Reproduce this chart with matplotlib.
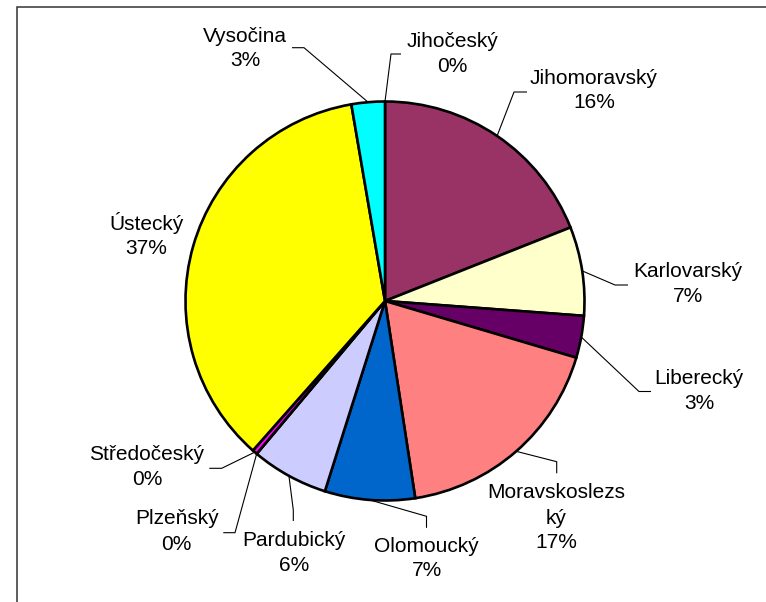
import numpy as np
import matplotlib
matplotlib.use("Agg")
import matplotlib.pyplot as plt
from matplotlib.patches import Rectangle

# ---- data ----
regions = ["Jihočeský", "Jihomoravský", "Karlovarský", "Liberecký", "Moravskoslezský",
           "Olomoucký", "Pardubický", "Plzeňský", "Středočeský", "Ústecký", "Vysočina"]
shares = [0.0, 19.0, 7.2, 3.4, 18.0, 7.3, 6.25, 0.0, 0.4, 35.8, 2.7]
label_texts = ["Jihočeský\n0%", "Jihomoravský\n16%", "Karlovarský\n7%", "Liberecký\n3%",
               "Moravskoslezs\nký\n17%", "Olomoucký\n7%", "Pardubický\n6%", "Plzeňský\n0%",
               "Středočeský\n0%", "Ústecký\n37%", "Vysočina\n3%"]
colors = ["#9999FF", "#993366", "#FFFFCC", "#660066", "#FF8080", "#0066CC",
          "#CCCCFF", "#000080", "#FF00FF", "#FFFF00", "#00FFFF"]

# ---- layout (pixel coordinates, y downwards) ----
W, H = 766, 602
CX, CY, R = 385, 301, 199.5
text_pos = [(452, 54), (594, 90.5), (687.5, 284), (699, 391), (556.5, 518),
            (426.7, 558.5), (294.3, 552.7), (176.7, 531.5), (147, 467),
            (146.5, 235), (245, 48.5)]
elbows = [[(391, 54), (401, 54)],
          [(514, 92), (527, 92)],
          [(615, 285), (628, 285)],
          [(639, 391.5), (651, 391.5)],
          [(556.7, 461.7), (556.7, 473.3)],
          [(426.5, 516.3), (426.5, 527.8)],
          [(293.3, 510), (293.3, 521)],
          [(235, 532.7), (223.3, 532.7)],
          [(221.7, 468.3), (209.3, 468.3)],
          [],
          [(304, 47.7), (292, 47.7)]]


def P(x, y):
    return x, H - y


fig = plt.figure(figsize=(W / 100, H / 100), dpi=100)
ax = fig.add_axes([0, 0, 1, 1])
ax.set_facecolor("white")

wedges, _ = ax.pie(shares, colors=colors, startangle=90, counterclock=False,
                   center=P(CX, CY), radius=R,
                   wedgeprops=dict(edgecolor="black", linewidth=1.9))
ax.set_xlim(0, W)
ax.set_ylim(0, H)
ax.set_aspect("equal")
ax.axis("off")

cx, cy = P(CX, CY)
for w, txt, tp, el in zip(wedges, label_texts, text_pos, elbows):
    ang = np.deg2rad((w.theta1 + w.theta2) / 2)
    ax0 = cx + R * np.cos(ang)
    ay0 = cy + R * np.sin(ang)
    if el:
        xs = [ax0] + [P(*e)[0] for e in el]
        ys = [ay0] + [P(*e)[1] for e in el]
        ax.plot(xs, ys, color="black", lw=0.8, solid_capstyle="butt")
    tx, ty = P(*tp)
    ax.text(tx, ty, txt, ha="center", va="center", fontsize=15,
            family="Liberation Sans", linespacing=1.4, color="black")

# chart-area border (only top and left edges fall inside the image)
ax.add_patch(Rectangle(P(17, H + 20), 800, H + 20 - 7, fill=False,
                       edgecolor="#333333", lw=1.1, clip_on=False))

fig.savefig("out.png", dpi=100, facecolor="white")
